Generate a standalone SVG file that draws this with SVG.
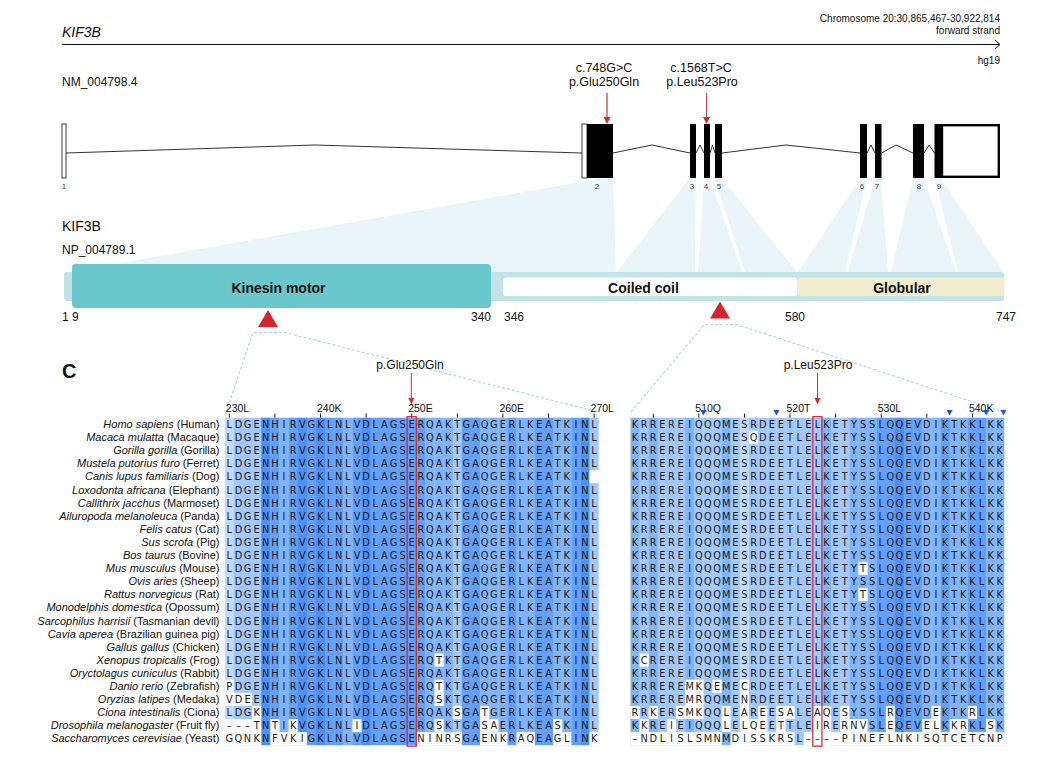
<svg xmlns="http://www.w3.org/2000/svg" xmlns:xlink="http://www.w3.org/1999/xlink" width="1052" height="765" viewBox="0 0 1052 765">
<style>
text{font-family:"Liberation Sans",Arial,sans-serif;fill:#111}
.res{font-family:"DejaVu Sans",Verdana,sans-serif;font-size:9.8px;fill:#1a1a1a;text-anchor:middle}
.sp{font-size:11px;text-anchor:end}
.tl{font-size:10.5px}
.c1{fill:#4d90f6}.c2{fill:#62a0fa}.c3{fill:#80b4fc}.c4{fill:#a2c8fd}.c5{fill:#c2dbfe}
.w{fill:#fff}
.tick{stroke:#222;stroke-width:1}
.intr{stroke:#333;stroke-width:1;fill:none}
.wedge{fill:#e9f5f9}
.dash{stroke:#a6dadf;stroke-width:1.1;stroke-dasharray:3 2;fill:none}
.bt{font-weight:bold;font-size:14px;text-anchor:middle}
.num{font-size:12px}
.exn{font-size:8px;fill:#444;text-anchor:middle}
.rbox{fill:none;stroke:#d0202a;stroke-width:1.2}
.bm{fill:#1f4fe8}
</style>
<defs>
<text id="LA" class="res" x="0 9.12 18.24 27.36 36.48 45.6 54.72 63.84 72.96 82.08 91.2 100.32 109.44 118.56 127.68 136.8 145.92 155.04 164.16 173.28 182.4 191.52 200.64 209.76 218.88 228 237.12 246.24 255.36 264.48 273.6 282.72 291.84 300.96 310.08 319.2 328.32 337.44 346.56 355.68 364.8">LDGENHIRVGKLNLVDLAGSERQAKTGAQGERLKEATKINL</text>
<text id="LCan" class="res" x="0 9.12 18.24 27.36 36.48 45.6 54.72 63.84 72.96 82.08 91.2 100.32 109.44 118.56 127.68 136.8 145.92 155.04 164.16 173.28 182.4 191.52 200.64 209.76 218.88 228 237.12 246.24 255.36 264.48 273.6 282.72 291.84 300.96 310.08 319.2 328.32 337.44 346.56 355.68 364.8">LDGENHIRVGKLNLVDLAGSERQAKTGAQGERLKEATKIN</text>
<text id="LXen" class="res" x="0 9.12 18.24 27.36 36.48 45.6 54.72 63.84 72.96 82.08 91.2 100.32 109.44 118.56 127.68 136.8 145.92 155.04 164.16 173.28 182.4 191.52 200.64 209.76 218.88 228 237.12 246.24 255.36 264.48 273.6 282.72 291.84 300.96 310.08 319.2 328.32 337.44 346.56 355.68 364.8">LDGENHIRVGKLNLVDLAGSERQTKTGAQGERLKEATKINL</text>
<text id="LDan" class="res" x="0 9.12 18.24 27.36 36.48 45.6 54.72 63.84 72.96 82.08 91.2 100.32 109.44 118.56 127.68 136.8 145.92 155.04 164.16 173.28 182.4 191.52 200.64 209.76 218.88 228 237.12 246.24 255.36 264.48 273.6 282.72 291.84 300.96 310.08 319.2 328.32 337.44 346.56 355.68 364.8">PDGENHIRVGKLNLVDLAGSERQTKTGAQGERLKEATKINL</text>
<text id="LOry" class="res" x="0 9.12 18.24 27.36 36.48 45.6 54.72 63.84 72.96 82.08 91.2 100.32 109.44 118.56 127.68 136.8 145.92 155.04 164.16 173.28 182.4 191.52 200.64 209.76 218.88 228 237.12 246.24 255.36 264.48 273.6 282.72 291.84 300.96 310.08 319.2 328.32 337.44 346.56 355.68 364.8">VDEENHIRVGKLNLVDLAGSERQSKTGAQGERLKEATKINL</text>
<text id="LCio" class="res" x="0 9.12 18.24 27.36 36.48 45.6 54.72 63.84 72.96 82.08 91.2 100.32 109.44 118.56 127.68 136.8 145.92 155.04 164.16 173.28 182.4 191.52 200.64 209.76 218.88 228 237.12 246.24 255.36 264.48 273.6 282.72 291.84 300.96 310.08 319.2 328.32 337.44 346.56 355.68 364.8">LDGKNHIRVGKLNLVDLAGSERQAKSGATGERLKEATKINL</text>
<text id="LDro" class="res" x="0 9.12 18.24 27.36 36.48 45.6 54.72 63.84 72.96 82.08 91.2 100.32 109.44 118.56 127.68 136.8 145.92 155.04 164.16 173.28 182.4 191.52 200.64 209.76 218.88 228 237.12 246.24 255.36 264.48 273.6 282.72 291.84 300.96 310.08 319.2 328.32 337.44 346.56 355.68 364.8">–––TNTIKVGKLNLIDLAGSERQSKTGASAERLKEASKINL</text>
<text id="LYea" class="res" x="0 9.12 18.24 27.36 36.48 45.6 54.72 63.84 72.96 82.08 91.2 100.32 109.44 118.56 127.68 136.8 145.92 155.04 164.16 173.28 182.4 191.52 200.64 209.76 218.88 228 237.12 246.24 255.36 264.48 273.6 282.72 291.84 300.96 310.08 319.2 328.32 337.44 346.56 355.68 364.8">GQNKNFVKIGKLNLVDLAGSENINRSGAENKRAQEAGLINK</text>
<text id="RA" class="res" x="0 9.12 18.24 27.36 36.48 45.6 54.72 63.84 72.96 82.08 91.2 100.32 109.44 118.56 127.68 136.8 145.92 155.04 164.16 173.28 182.4 191.52 200.64 209.76 218.88 228 237.12 246.24 255.36 264.48 273.6 282.72 291.84 300.96 310.08 319.2 328.32 337.44 346.56 355.68 364.8">KRREREIQQQMESRDEETLELKETYSSLQQEVDIKTKKLKK</text>
<text id="RMac" class="res" x="0 9.12 18.24 27.36 36.48 45.6 54.72 63.84 72.96 82.08 91.2 100.32 109.44 118.56 127.68 136.8 145.92 155.04 164.16 173.28 182.4 191.52 200.64 209.76 218.88 228 237.12 246.24 255.36 264.48 273.6 282.72 291.84 300.96 310.08 319.2 328.32 337.44 346.56 355.68 364.8">KRREREIQQQMESQDEETLELKETYSSLQQEVDIKTKKLKK</text>
<text id="RMus" class="res" x="0 9.12 18.24 27.36 36.48 45.6 54.72 63.84 72.96 82.08 91.2 100.32 109.44 118.56 127.68 136.8 145.92 155.04 164.16 173.28 182.4 191.52 200.64 209.76 218.88 228 237.12 246.24 255.36 264.48 273.6 282.72 291.84 300.96 310.08 319.2 328.32 337.44 346.56 355.68 364.8">KRREREIQQQMESRDEETLELKETYTSLQQEVDIKTKKLKK</text>
<text id="RXen" class="res" x="0 9.12 18.24 27.36 36.48 45.6 54.72 63.84 72.96 82.08 91.2 100.32 109.44 118.56 127.68 136.8 145.92 155.04 164.16 173.28 182.4 191.52 200.64 209.76 218.88 228 237.12 246.24 255.36 264.48 273.6 282.72 291.84 300.96 310.08 319.2 328.32 337.44 346.56 355.68 364.8">KCREREIQQQMESRDEETLELKETYSSLQQEVDIKTKKLKK</text>
<text id="RDan" class="res" x="0 9.12 18.24 27.36 36.48 45.6 54.72 63.84 72.96 82.08 91.2 100.32 109.44 118.56 127.68 136.8 145.92 155.04 164.16 173.28 182.4 191.52 200.64 209.76 218.88 228 237.12 246.24 255.36 264.48 273.6 282.72 291.84 300.96 310.08 319.2 328.32 337.44 346.56 355.68 364.8">KRREREMKQEMECRDEETLELKETYSSLQQEVDIKTKKLKK</text>
<text id="ROry" class="res" x="0 9.12 18.24 27.36 36.48 45.6 54.72 63.84 72.96 82.08 91.2 100.32 109.44 118.56 127.68 136.8 145.92 155.04 164.16 173.28 182.4 191.52 200.64 209.76 218.88 228 237.12 246.24 255.36 264.48 273.6 282.72 291.84 300.96 310.08 319.2 328.32 337.44 346.56 355.68 364.8">KRREREMRQQMENRDEETLELKETYSSLQQEVDIKTKKLKK</text>
<text id="RCio" class="res" x="0 9.12 18.24 27.36 36.48 45.6 54.72 63.84 72.96 82.08 91.2 100.32 109.44 118.56 127.68 136.8 145.92 155.04 164.16 173.28 182.4 191.52 200.64 209.76 218.88 228 237.12 246.24 255.36 264.48 273.6 282.72 291.84 300.96 310.08 319.2 328.32 337.44 346.56 355.68 364.8">RRKERSMKQQLEAREESALEAQESYSSLRQEVDEKTKRLKK</text>
<text id="RDro" class="res" x="0 9.12 18.24 27.36 36.48 45.6 54.72 63.84 72.96 82.08 91.2 100.32 109.44 118.56 127.68 136.8 145.92 155.04 164.16 173.28 182.4 191.52 200.64 209.76 218.88 228 237.12 246.24 255.36 264.48 273.6 282.72 291.84 300.96 310.08 319.2 328.32 337.44 346.56 355.68 364.8">KKREIEIQQQLELQEETTLEIRERNVSLEQEVELKKRKLSK</text>
<text id="RYea" class="res" x="0 9.12 18.24 27.36 36.48 45.6 54.72 63.84 72.96 82.08 91.2 100.32 109.44 118.56 127.68 136.8 145.92 155.04 164.16 173.28 182.4 191.52 200.64 209.76 218.88 228 237.12 246.24 255.36 264.48 273.6 282.72 291.84 300.96 310.08 319.2 328.32 337.44 346.56 355.68 364.8">–NDLISLSMNMDISSKRSL––––PINEFLNKISQTCETCNP</text>
</defs>
<rect width="1052" height="765" fill="#fff"/>

<g id="gene-header">
<text x="62" y="37" font-size="14" font-style="italic">KIF3B</text>
<text x="1000" y="22" font-size="10" text-anchor="end">Chromosome 20:30,865,467-30,922,814</text>
<text x="1000" y="34" font-size="10" text-anchor="end">forward strand</text>
<line x1="62" y1="44.5" x2="1000" y2="44.5" stroke="#111" stroke-width="1.2"/>
<polyline points="995,40 1000,44.5 995,49" fill="none" stroke="#111" stroke-width="1"/>
<text x="1000" y="64" font-size="10" text-anchor="end">hg19</text>
<text x="62" y="86" font-size="12">NM_004798.4</text>
</g>

<g id="wedges">
<polygon class="wedge" points="598,179 613,179 616,272 491,272 491,264 115,264"/>
<polygon class="wedge" points="689,179 696,179 695,272 617,272"/>
<polygon class="wedge" points="704,179 710,179 742,272 698,272"/>
<polygon class="wedge" points="715,179 722,179 797,272 745,272"/>
<polygon class="wedge" points="860,179 867,179 845,272 798,272"/>
<polygon class="wedge" points="875,179 881,179 888,272 848,272"/>
<polygon class="wedge" points="913,179 924,179 956,272 891,272"/>
<polygon class="wedge" points="935,179 941,179 1003,272 958,272"/>
</g>

<g id="introns">
<polyline class="intr" points="66,153 315,145 582,153"/>
<polyline class="intr" points="613,153 652,145 690,153"/>
<polyline class="intr" points="696,153 700,145 704,153"/>
<polyline class="intr" points="710,153 712.5,145 715,153"/>
<polyline class="intr" points="722,153 786,145 860,153"/>
<polyline class="intr" points="867,153 871,145 875,153"/>
<polyline class="intr" points="881.5,153 896,145 913,153"/>
<polyline class="intr" points="924,153 929,145 934.5,153"/>
</g>

<g id="exons">
<rect x="62" y="124" width="4" height="54" fill="#fff" stroke="#111" stroke-width="0.8"/>
<rect x="582" y="124" width="5" height="54" fill="#fff" stroke="#111" stroke-width="0.8"/>
<rect x="587" y="124" width="26" height="54" fill="#000"/>
<rect x="690" y="124" width="6" height="54" fill="#000"/>
<rect x="704" y="124" width="6" height="54" fill="#000"/>
<rect x="715" y="124" width="7" height="54" fill="#000"/>
<rect x="860" y="124" width="7" height="54" fill="#000"/>
<rect x="875" y="124" width="6.5" height="54" fill="#000"/>
<rect x="913" y="124" width="11" height="54" fill="#000"/>
<rect x="934.5" y="124" width="6.5" height="54" fill="#000"/>
<rect x="942" y="125.2" width="56.8" height="51.6" fill="#fff" stroke="#000" stroke-width="2.4"/>
<text class="exn" x="64" y="189">1</text>
<text class="exn" x="597" y="189">2</text>
<text class="exn" x="692" y="189">3</text>
<text class="exn" x="706" y="189">4</text>
<text class="exn" x="719" y="189">5</text>
<text class="exn" x="862" y="189">6</text>
<text class="exn" x="877" y="189">7</text>
<text class="exn" x="919" y="189">8</text>
<text class="exn" x="939" y="189">9</text>
</g>

<g id="variant-1">
<text x="604" y="72" font-size="12.5" text-anchor="middle">c.748G&gt;C</text>
<text x="604" y="86" font-size="12.5" text-anchor="middle">p.Glu250Gln</text>
<line x1="607" y1="93" x2="607" y2="118" stroke="#d42a2a" stroke-width="1.2"/>
<polygon points="603.5,117 610.5,117 607,124" fill="#d42a2a"/>
</g>
<g id="variant-2">
<text x="701" y="72" font-size="12.5" text-anchor="middle">c.1568T&gt;C</text>
<text x="702" y="86" font-size="12.5" text-anchor="middle">p.Leu523Pro</text>
<line x1="706.5" y1="93" x2="706.5" y2="118" stroke="#a33" stroke-width="0.9"/>
<polygon points="703,117 710,117 706.5,124" fill="#d42a2a"/>
</g>

<g id="protein">
<text x="62" y="231" font-size="14">KIF3B</text>
<text x="62" y="254" font-size="12">NP_004789.1</text>
<rect x="64" y="272" width="940" height="29" rx="3" fill="#c2e4e7"/>
<g id="kinesin-motor">
<rect x="72" y="264" width="419" height="44" rx="4" fill="#6ac7cb"/>
<text class="bt" x="278.5" y="292.5">Kinesin motor</text>
</g>
<g id="coiled-coil">
<rect x="503" y="277.5" width="294.5" height="18.5" rx="3" fill="#fff"/>
<text class="bt" x="643.5" y="292.5">Coiled coil</text>
</g>
<g id="globular">
<rect x="798" y="277.5" width="206.5" height="18.5" rx="2" fill="#f3ecce"/>
<text class="bt" x="902" y="292.5">Globular</text>
</g>
<text class="num" x="62" y="321">1 9</text>
<text class="num" x="491" y="321" text-anchor="end">340</text>
<text class="num" x="504" y="321">346</text>
<text class="num" x="795" y="321" text-anchor="middle">580</text>
<text class="num" x="1016" y="321" text-anchor="end">747</text>
<polygon points="268,310 258,327 278,327" fill="#d9232e"/>
<polygon points="720,301.5 710,318.5 730,318.5" fill="#d9232e"/>
</g>

<g id="connectors">
<polyline class="dash" points="226,412 253,332.5 285,332.5 598,412"/>
<polyline class="dash" points="631,412 704.5,324.5 736.5,324.5 1004,412"/>
</g>

<text x="62" y="378" font-size="20" font-weight="bold">C</text>
<g id="label-left">
<text x="410" y="369" font-size="12" text-anchor="middle">p.Glu250Gln</text>
<line x1="411.3" y1="373" x2="411.3" y2="399" stroke="#d42a2a" stroke-width="1"/>
<polygon points="408.3,398 414.3,398 411.3,404.5" fill="#d42a2a"/>
</g>
<g id="label-right">
<text x="818" y="369" font-size="12" text-anchor="middle">p.Leu523Pro</text>
<line x1="817.5" y1="373" x2="817.5" y2="399" stroke="#d42a2a" stroke-width="1"/>
<polygon points="814.5,398 820.5,398 817.5,404.5" fill="#d42a2a"/>
</g>

<g id="species">
<text class="sp" x="219.5" y="428"><tspan font-style="italic">Homo sapiens</tspan> (Human)</text>
<text class="sp" x="219.5" y="441.1"><tspan font-style="italic">Macaca mulatta</tspan> (Macaque)</text>
<text class="sp" x="219.5" y="454.2"><tspan font-style="italic">Gorilla gorilla</tspan> (Gorilla)</text>
<text class="sp" x="219.5" y="467.3"><tspan font-style="italic">Mustela putorius furo</tspan> (Ferret)</text>
<text class="sp" x="219.5" y="480.4"><tspan font-style="italic">Canis lupus familiaris</tspan> (Dog)</text>
<text class="sp" x="219.5" y="493.5"><tspan font-style="italic">Loxodonta africana</tspan> (Elephant)</text>
<text class="sp" x="219.5" y="506.6"><tspan font-style="italic">Callithrix jacchus</tspan> (Marmoset)</text>
<text class="sp" x="219.5" y="519.7"><tspan font-style="italic">Ailuropoda melanoleuca</tspan> (Panda)</text>
<text class="sp" x="219.5" y="532.8"><tspan font-style="italic">Felis catus</tspan> (Cat)</text>
<text class="sp" x="219.5" y="545.9"><tspan font-style="italic">Sus scrofa</tspan> (Pig)</text>
<text class="sp" x="219.5" y="559"><tspan font-style="italic">Bos taurus</tspan> (Bovine)</text>
<text class="sp" x="219.5" y="572.1"><tspan font-style="italic">Mus musculus</tspan> (Mouse)</text>
<text class="sp" x="219.5" y="585.2"><tspan font-style="italic">Ovis aries</tspan> (Sheep)</text>
<text class="sp" x="219.5" y="598.3"><tspan font-style="italic">Rattus norvegicus</tspan> (Rat)</text>
<text class="sp" x="219.5" y="611.4"><tspan font-style="italic">Monodelphis domestica</tspan> (Opossum)</text>
<text class="sp" x="219.5" y="624.5"><tspan font-style="italic">Sarcophilus harrisii</tspan> (Tasmanian devil)</text>
<text class="sp" x="219.5" y="637.6"><tspan font-style="italic">Cavia aperea</tspan> (Brazilian guinea pig)</text>
<text class="sp" x="219.5" y="650.7"><tspan font-style="italic">Gallus gallus</tspan> (Chicken)</text>
<text class="sp" x="219.5" y="663.8"><tspan font-style="italic">Xenopus tropicalis</tspan> (Frog)</text>
<text class="sp" x="219.5" y="676.9"><tspan font-style="italic">Oryctolagus cuniculus</tspan> (Rabbit)</text>
<text class="sp" x="219.5" y="690"><tspan font-style="italic">Danio rerio</tspan> (Zebrafish)</text>
<text class="sp" x="219.5" y="703.1"><tspan font-style="italic">Oryzias latipes</tspan> (Medaka)</text>
<text class="sp" x="219.5" y="716.2"><tspan font-style="italic">Ciona intestinalis</tspan> (Ciona)</text>
<text class="sp" x="219.5" y="729.3"><tspan font-style="italic">Drosophila melanogaster</tspan> (Fruit fly)</text>
<text class="sp" x="219.5" y="742.4"><tspan font-style="italic">Saccharomyces cerevisiae</tspan> (Yeast)</text>
</g>

<g id="align-left" transform="translate(229.3,0)">
<g id="left-cols">
<rect class="c5" x="-4.56" y="417.7" width="9.4" height="327.5"/>
<rect class="c4" x="4.56" y="417.7" width="9.4" height="327.5"/>
<rect class="c4" x="13.68" y="417.7" width="9.4" height="327.5"/>
<rect class="c4" x="22.8" y="417.7" width="9.4" height="327.5"/>
<rect class="c1" x="31.92" y="417.7" width="9.4" height="327.5"/>
<rect class="c2" x="41.04" y="417.7" width="9.4" height="327.5"/>
<rect class="c3" x="50.16" y="417.7" width="9.4" height="327.5"/>
<rect class="c2" x="59.28" y="417.7" width="9.4" height="327.5"/>
<rect class="c1" x="68.4" y="417.7" width="9.4" height="327.5"/>
<rect class="c2" x="77.52" y="417.7" width="9.4" height="327.5"/>
<rect class="c1" x="86.64" y="417.7" width="9.4" height="327.5"/>
<rect class="c2" x="95.76" y="417.7" width="9.4" height="327.5"/>
<rect class="c2" x="104.88" y="417.7" width="9.4" height="327.5"/>
<rect class="c3" x="114" y="417.7" width="9.4" height="327.5"/>
<rect class="c2" x="123.12" y="417.7" width="9.4" height="327.5"/>
<rect class="c1" x="132.24" y="417.7" width="9.4" height="327.5"/>
<rect class="c2" x="141.36" y="417.7" width="9.4" height="327.5"/>
<rect class="c2" x="150.48" y="417.7" width="9.4" height="327.5"/>
<rect class="c2" x="159.6" y="417.7" width="9.4" height="327.5"/>
<rect class="c2" x="168.72" y="417.7" width="9.4" height="327.5"/>
<rect class="c2" x="177.84" y="417.7" width="9.4" height="327.5"/>
<rect class="c2" x="186.96" y="417.7" width="9.4" height="327.5"/>
<rect class="c3" x="196.08" y="417.7" width="9.4" height="327.5"/>
<rect class="c3" x="205.2" y="417.7" width="9.4" height="327.5"/>
<rect class="c3" x="214.32" y="417.7" width="9.4" height="327.5"/>
<rect class="c4" x="223.44" y="417.7" width="9.4" height="327.5"/>
<rect class="c2" x="232.56" y="417.7" width="9.4" height="327.5"/>
<rect class="c2" x="241.68" y="417.7" width="9.4" height="327.5"/>
<rect class="c3" x="250.8" y="417.7" width="9.4" height="327.5"/>
<rect class="c3" x="259.92" y="417.7" width="9.4" height="327.5"/>
<rect class="c3" x="269.04" y="417.7" width="9.4" height="327.5"/>
<rect class="c2" x="278.16" y="417.7" width="9.4" height="327.5"/>
<rect class="c3" x="287.28" y="417.7" width="9.4" height="327.5"/>
<rect class="c3" x="296.4" y="417.7" width="9.4" height="327.5"/>
<rect class="c2" x="305.52" y="417.7" width="9.4" height="327.5"/>
<rect class="c2" x="314.64" y="417.7" width="9.4" height="327.5"/>
<rect class="c3" x="323.76" y="417.7" width="9.4" height="327.5"/>
<rect class="c3" x="332.88" y="417.7" width="9.4" height="327.5"/>
<rect class="c2" x="342" y="417.7" width="9.4" height="327.5"/>
<rect class="c1" x="351.12" y="417.7" width="9.4" height="327.5"/>
<rect class="c4" x="360.24" y="417.7" width="9.12" height="327.5"/>
</g>
<g id="left-gaps">
<rect class="w" x="360.24" y="470.1" width="9.4" height="13.1"/>
<rect class="w" x="205.2" y="653.5" width="9.12" height="13.1"/>
<rect class="w" x="-4.56" y="679.7" width="9.12" height="13.1"/>
<rect class="w" x="205.2" y="679.7" width="9.12" height="13.1"/>
<rect class="w" x="-4.56" y="692.8" width="27.36" height="13.1"/>
<rect class="w" x="205.2" y="692.8" width="9.12" height="13.1"/>
<rect class="w" x="22.8" y="705.9" width="9.12" height="13.1"/>
<rect class="w" x="223.44" y="705.9" width="9.12" height="13.1"/>
<rect class="w" x="250.8" y="705.9" width="9.12" height="13.1"/>
<rect class="w" x="-4.56" y="719" width="36.48" height="13.1"/>
<rect class="w" x="41.04" y="719" width="9.12" height="13.1"/>
<rect class="w" x="59.28" y="719" width="9.12" height="13.1"/>
<rect class="w" x="123.12" y="719" width="9.12" height="13.1"/>
<rect class="w" x="205.2" y="719" width="9.12" height="13.1"/>
<rect class="w" x="250.8" y="719" width="18.24" height="13.1"/>
<rect class="w" x="323.76" y="719" width="9.12" height="13.1"/>
<rect class="w" x="-4.56" y="732.1" width="36.48" height="13.2"/>
<rect class="w" x="41.04" y="732.1" width="36.48" height="13.2"/>
<rect class="w" x="186.96" y="732.1" width="45.6" height="13.2"/>
<rect class="w" x="250.8" y="732.1" width="27.36" height="13.2"/>
<rect class="w" x="287.28" y="732.1" width="18.24" height="13.2"/>
<rect class="w" x="323.76" y="732.1" width="18.24" height="13.2"/>
<rect class="w" x="360.24" y="732.1" width="9.4" height="13.2"/>
</g>
<g id="left-ticks">
<path class="tick" d="M0 413.5V417.7M45.6 413.5V417.7M91.2 413.5V417.7M136.8 413.5V417.7M182.4 413.5V417.7M228 413.5V417.7M273.6 413.5V417.7M319.2 413.5V417.7M364.8 413.5V417.7"/>
<text class="tl" x="-3.5" y="412">230L</text>
<text class="tl" x="87.7" y="412">240K</text>
<text class="tl" x="178.9" y="412">250E</text>
<text class="tl" x="270.1" y="412">260E</text>
<text class="tl" x="361.3" y="412">270L</text>
</g>
<g id="left-rows">
<use xlink:href="#LA" y="428"/>
<use xlink:href="#LA" y="441.1"/>
<use xlink:href="#LA" y="454.2"/>
<use xlink:href="#LA" y="467.3"/>
<use xlink:href="#LCan" y="480.4"/>
<use xlink:href="#LA" y="493.5"/>
<use xlink:href="#LA" y="506.6"/>
<use xlink:href="#LA" y="519.7"/>
<use xlink:href="#LA" y="532.8"/>
<use xlink:href="#LA" y="545.9"/>
<use xlink:href="#LA" y="559"/>
<use xlink:href="#LA" y="572.1"/>
<use xlink:href="#LA" y="585.2"/>
<use xlink:href="#LA" y="598.3"/>
<use xlink:href="#LA" y="611.4"/>
<use xlink:href="#LA" y="624.5"/>
<use xlink:href="#LA" y="637.6"/>
<use xlink:href="#LA" y="650.7"/>
<use xlink:href="#LXen" y="663.8"/>
<use xlink:href="#LA" y="676.9"/>
<use xlink:href="#LDan" y="690"/>
<use xlink:href="#LOry" y="703.1"/>
<use xlink:href="#LCio" y="716.2"/>
<use xlink:href="#LDro" y="729.3"/>
<use xlink:href="#LYea" y="742.4"/>
</g>
<rect class="rbox" x="177.84" y="416.7" width="9.12" height="329.5"/>
</g>

<g id="align-right" transform="translate(635,0)">
<g id="right-cols">
<rect class="c3" x="-4.56" y="417.7" width="9.4" height="327.5"/>
<rect class="c4" x="4.56" y="417.7" width="9.4" height="327.5"/>
<rect class="c3" x="13.68" y="417.7" width="9.4" height="327.5"/>
<rect class="c4" x="22.8" y="417.7" width="9.4" height="327.5"/>
<rect class="c4" x="31.92" y="417.7" width="9.4" height="327.5"/>
<rect class="c4" x="41.04" y="417.7" width="9.4" height="327.5"/>
<rect class="c3" x="50.16" y="417.7" width="9.4" height="327.5"/>
<rect class="c4" x="59.28" y="417.7" width="9.4" height="327.5"/>
<rect class="c4" x="68.4" y="417.7" width="9.4" height="327.5"/>
<rect class="c4" x="77.52" y="417.7" width="9.4" height="327.5"/>
<rect class="c3" x="86.64" y="417.7" width="9.4" height="327.5"/>
<rect class="c4" x="95.76" y="417.7" width="9.4" height="327.5"/>
<rect class="c5" x="104.88" y="417.7" width="9.4" height="327.5"/>
<rect class="c4" x="114" y="417.7" width="9.4" height="327.5"/>
<rect class="c4" x="123.12" y="417.7" width="9.4" height="327.5"/>
<rect class="c4" x="132.24" y="417.7" width="9.4" height="327.5"/>
<rect class="c4" x="141.36" y="417.7" width="9.4" height="327.5"/>
<rect class="c4" x="150.48" y="417.7" width="9.4" height="327.5"/>
<rect class="c4" x="159.6" y="417.7" width="9.4" height="327.5"/>
<rect class="c4" x="168.72" y="417.7" width="9.4" height="327.5"/>
<rect class="c4" x="177.84" y="417.7" width="9.4" height="327.5"/>
<rect class="c3" x="186.96" y="417.7" width="9.4" height="327.5"/>
<rect class="c4" x="196.08" y="417.7" width="9.4" height="327.5"/>
<rect class="c4" x="205.2" y="417.7" width="9.4" height="327.5"/>
<rect class="c3" x="214.32" y="417.7" width="9.4" height="327.5"/>
<rect class="c3" x="223.44" y="417.7" width="9.4" height="327.5"/>
<rect class="c3" x="232.56" y="417.7" width="9.4" height="327.5"/>
<rect class="c2" x="241.68" y="417.7" width="9.4" height="327.5"/>
<rect class="c2" x="250.8" y="417.7" width="9.4" height="327.5"/>
<rect class="c1" x="259.92" y="417.7" width="9.4" height="327.5"/>
<rect class="c2" x="269.04" y="417.7" width="9.4" height="327.5"/>
<rect class="c2" x="278.16" y="417.7" width="9.4" height="327.5"/>
<rect class="c3" x="287.28" y="417.7" width="9.4" height="327.5"/>
<rect class="c3" x="296.4" y="417.7" width="9.4" height="327.5"/>
<rect class="c2" x="305.52" y="417.7" width="9.4" height="327.5"/>
<rect class="c3" x="314.64" y="417.7" width="9.4" height="327.5"/>
<rect class="c3" x="323.76" y="417.7" width="9.4" height="327.5"/>
<rect class="c2" x="332.88" y="417.7" width="9.4" height="327.5"/>
<rect class="c2" x="342" y="417.7" width="9.4" height="327.5"/>
<rect class="c3" x="351.12" y="417.7" width="9.4" height="327.5"/>
<rect class="c3" x="360.24" y="417.7" width="9.12" height="327.5"/>
</g>
<g id="right-gaps">
<rect class="w" x="114" y="430.8" width="9.12" height="13.1"/>
<rect class="w" x="223.44" y="561.8" width="9.12" height="13.1"/>
<rect class="w" x="223.44" y="588" width="9.12" height="13.1"/>
<rect class="w" x="4.56" y="653.5" width="9.12" height="13.1"/>
<rect class="w" x="50.16" y="679.7" width="18.24" height="13.1"/>
<rect class="w" x="77.52" y="679.7" width="9.12" height="13.1"/>
<rect class="w" x="104.88" y="679.7" width="9.12" height="13.1"/>
<rect class="w" x="50.16" y="692.8" width="18.24" height="13.1"/>
<rect class="w" x="104.88" y="692.8" width="9.12" height="13.1"/>
<rect class="w" x="-4.56" y="705.9" width="9.12" height="13.1"/>
<rect class="w" x="13.68" y="705.9" width="9.12" height="13.1"/>
<rect class="w" x="41.04" y="705.9" width="27.36" height="13.1"/>
<rect class="w" x="86.64" y="705.9" width="9.12" height="13.1"/>
<rect class="w" x="104.88" y="705.9" width="9.12" height="13.1"/>
<rect class="w" x="123.12" y="705.9" width="9.12" height="13.1"/>
<rect class="w" x="141.36" y="705.9" width="18.24" height="13.1"/>
<rect class="w" x="177.84" y="705.9" width="18.24" height="13.1"/>
<rect class="w" x="205.2" y="705.9" width="9.12" height="13.1"/>
<rect class="w" x="250.8" y="705.9" width="9.12" height="13.1"/>
<rect class="w" x="296.4" y="705.9" width="9.12" height="13.1"/>
<rect class="w" x="332.88" y="705.9" width="9.12" height="13.1"/>
<rect class="w" x="4.56" y="719" width="9.12" height="13.1"/>
<rect class="w" x="31.92" y="719" width="9.12" height="13.1"/>
<rect class="w" x="86.64" y="719" width="9.12" height="13.1"/>
<rect class="w" x="104.88" y="719" width="27.36" height="13.1"/>
<rect class="w" x="141.36" y="719" width="9.12" height="13.1"/>
<rect class="w" x="177.84" y="719" width="18.24" height="13.1"/>
<rect class="w" x="205.2" y="719" width="27.36" height="13.1"/>
<rect class="w" x="250.8" y="719" width="9.12" height="13.1"/>
<rect class="w" x="287.28" y="719" width="18.24" height="13.1"/>
<rect class="w" x="314.64" y="719" width="18.24" height="13.1"/>
<rect class="w" x="351.12" y="719" width="9.12" height="13.1"/>
<rect class="w" x="-4.56" y="732.1" width="91.2" height="13.2"/>
<rect class="w" x="95.76" y="732.1" width="63.84" height="13.2"/>
<rect class="w" x="168.72" y="732.1" width="200.64" height="13.2"/>
</g>
<g id="right-ticks">
<path class="tick" d="M18.24 413.5V417.7M63.84 413.5V417.7M109.44 413.5V417.7M155.04 413.5V417.7M200.64 413.5V417.7M246.24 413.5V417.7M291.84 413.5V417.7M337.44 413.5V417.7"/>
<text class="tl" x="60.34" y="412">510Q</text>
<text class="tl" x="151.54" y="412">520T</text>
<text class="tl" x="242.74" y="412">530L</text>
<text class="tl" x="333.94" y="412">540K</text>
<polygon class="bm" points="65.4,410 71.4,410 68.4,415.5"/>
<polygon class="bm" points="138.4,410 144.4,410 141.4,415.5"/>
<polygon class="bm" points="311.6,410 317.6,410 314.6,415.5"/>
<polygon class="bm" points="348.1,410 354.1,410 351.1,415.5"/>
<polygon class="bm" points="365.4,410 371.4,410 368.4,415.5"/>
</g>
<g id="right-rows">
<use xlink:href="#RA" y="428"/>
<use xlink:href="#RMac" y="441.1"/>
<use xlink:href="#RA" y="454.2"/>
<use xlink:href="#RA" y="467.3"/>
<use xlink:href="#RA" y="480.4"/>
<use xlink:href="#RA" y="493.5"/>
<use xlink:href="#RA" y="506.6"/>
<use xlink:href="#RA" y="519.7"/>
<use xlink:href="#RA" y="532.8"/>
<use xlink:href="#RA" y="545.9"/>
<use xlink:href="#RA" y="559"/>
<use xlink:href="#RMus" y="572.1"/>
<use xlink:href="#RA" y="585.2"/>
<use xlink:href="#RMus" y="598.3"/>
<use xlink:href="#RA" y="611.4"/>
<use xlink:href="#RA" y="624.5"/>
<use xlink:href="#RA" y="637.6"/>
<use xlink:href="#RA" y="650.7"/>
<use xlink:href="#RXen" y="663.8"/>
<use xlink:href="#RA" y="676.9"/>
<use xlink:href="#RDan" y="690"/>
<use xlink:href="#ROry" y="703.1"/>
<use xlink:href="#RCio" y="716.2"/>
<use xlink:href="#RDro" y="729.3"/>
<use xlink:href="#RYea" y="742.4"/>
</g>
<rect class="rbox" x="177.84" y="416.7" width="9.12" height="329.5"/>
</g>
</svg>
